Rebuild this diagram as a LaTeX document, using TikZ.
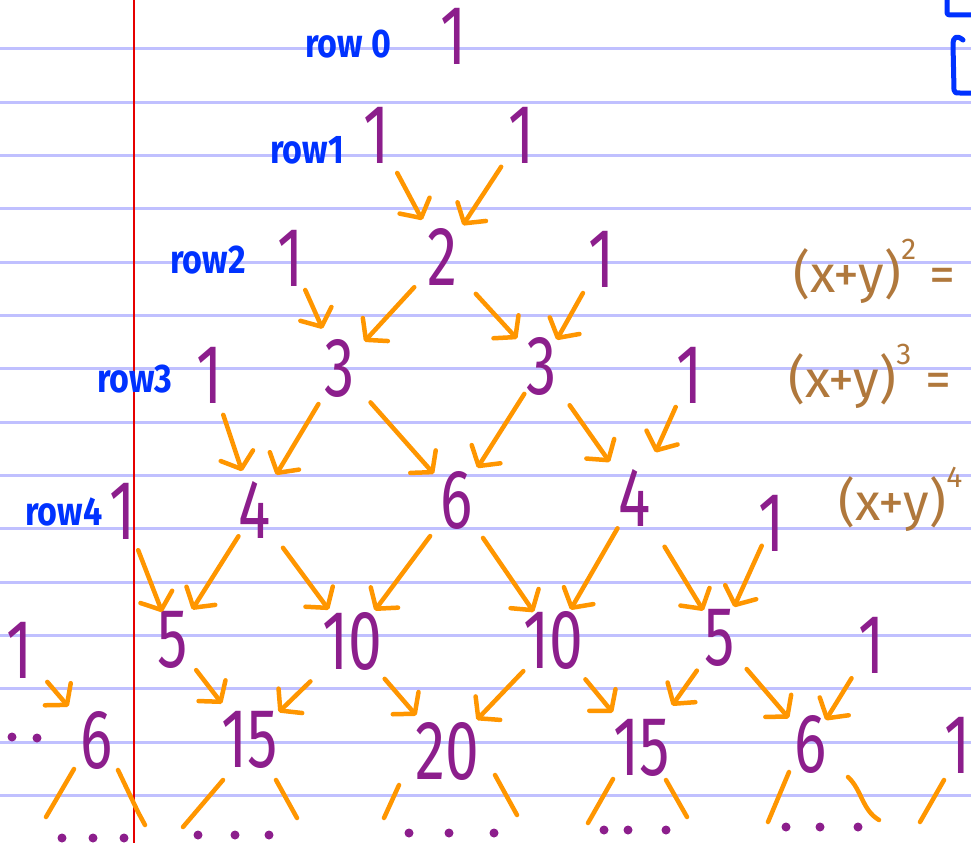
\documentclass[tikz,border=0pt]{standalone}
\usepackage{fontspec}
\usetikzlibrary{arrows.meta,calc}
\newfontfamily\handfont[FakeStretch=0.72]{Fira Sans}
\newfontfamily\labfont[FakeStretch=0.85]{Fira Sans}
\newfontfamily\eqfont{Fira Sans}
\definecolor{pur}{RGB}{140,30,140}
\definecolor{org}{RGB}{255,150,0}
\definecolor{blu}{RGB}{0,50,255}
\definecolor{brn}{RGB}{176,120,60}
\definecolor{rul}{RGB}{192,192,255}
\definecolor{mrg}{RGB}{230,0,0}
\newcommand\arw[4]{\draw[arr] ($(#1)!#3pt!(#2)$) -- ($(#2)!#4pt!(#1)$);}
\newcommand\sps[1]{\raisebox{0.62em}{\fontsize{30}{30}\selectfont #1}}
\begin{document}
\begin{tikzpicture}[x=1pt,y=-1pt,
  num/.style={text=pur, font=\handfont\fontsize{84}{84}\selectfont, inner sep=0pt, anchor=center},
  lab/.style={text=blu, font=\labfont\bfseries\fontsize{40}{40}\selectfont, inner sep=0pt, anchor=base west},
  eq/.style={text=brn, font=\eqfont\fontsize{52}{52}\selectfont, inner sep=0pt, anchor=base west},
  arr/.style={draw=org, line width=4.5pt, line cap=round, line join=round, -{Straight Barb[round,length=14pt,width=34pt]}},
  slash/.style={draw=org, line width=4.5pt, line cap=round},
  pen/.style={draw=blu, line width=5pt, line cap=round, line join=round},
  rule/.style={draw=rul, line width=3pt}]
\useasboundingbox (0,0) rectangle (971,843);
\fill[white] (0,0) rectangle (971,843);
% ruled paper
\foreach \k in {0,...,14} \draw[rule] (0,{49+53.33*\k}) -- (971,{49+53.33*\k});
\draw[draw=mrg, line width=2.5pt] (134,0) -- (134,843);
% numbers
\node[num] (n0) at (454,36) {1};
\node[num] (n1a) at (377,135) {1};
\node[num] (n1b) at (522,135) {1};
\node[num] (n2a) at (291,258) {1};
\node[num] (n2b) at (442,257) {2};
\node[num] (n2c) at (602,259) {1};
\node[num] (n3a) at (210,375) {1};
\node[num] (n3b) at (340,368) {3};
\node[num] (n3c) at (542,366) {3};
\node[num] (n3d) at (690,375) {1};
\node[num] (n4a) at (123,511) {1};
\node[num] (n4b) at (255,510) {4};
\node[num] (n4c) at (457,500) {6};
\node[num] (n4d) at (635,498) {4};
\node[num] (n4e) at (772,523) {1};
\node[num] (n5a) at (20,650) {1};
\node[num] (n5b) at (173,640) {5};
\node[num] (n5c) at (352,641) {10};
\node[num] (n5d) at (553,640) {10};
\node[num] (n5e) at (720,638) {5};
\node[num] (n5f) at (872,645) {1};
\node[num] (n6a) at (97,740) {6};
\node[num] (n6b) at (250,740) {15};
\node[num] (n6c) at (447,751) {20};
\node[num] (n6d) at (642,748) {15};
\node[num] (n6e) at (811,744) {6};
\node[num, anchor=east] (n6f) at (971,745) {1};
% row labels
\node[lab] (r0) at (305,58) {row 0};
\node[lab] (r1) at (270,163) {row1};
\node[lab] (r2) at (170,273) {row2};
\node[lab] (r3) at (97,392) {row3};
\node[lab] (r4) at (25,525) {row4};
% equations
\node[eq] (e2) at (793,292) {(x+y)\sps{2} =};
\node[eq] (e3) at (788,397) {(x+y)\sps{3} =};
\node[eq] (e4) at (838,520) {(x+y)\sps{4}};
% arrows
\arw{n1a}{n2b}{43}{42}
\arw{n1b}{n2b}{38}{38}
\arw{n2a}{n3b}{35}{43}
\arw{n2b}{n3b}{41}{36}
\arw{n2b}{n3c}{50}{37}
\arw{n2c}{n3c}{39}{30}
\arw{n3a}{n4b}{42}{41}
\arw{n3b}{n4b}{42}{41}
\arw{n3b}{n4c}{46}{35}
\arw{n3c}{n4c}{33}{38}
\arw{n3c}{n4d}{48}{44}
\arw{n3d}{n4d}{35}{50}
\arw{n4a}{n5b}{42}{30}
\arw{n4b}{n5b}{31}{36}
\arw{n4b}{n5c}{47}{39}
\arw{n4c}{n5c}{45}{38}
\arw{n4c}{n5d}{46}{34}
\arw{n4d}{n5d}{35}{35}
\arw{n4d}{n5e}{57}{32}
\arw{n4e}{n5e}{25}{34}
\arw{n5a}{n6a}{42}{44}
\arw{n5b}{n6b}{38}{46}
\arw{n5c}{n6b}{58}{40}
\arw{n5c}{n6c}{50}{47}
\arw{n5d}{n6c}{43}{43}
\arw{n5d}{n6d}{51}{46}
\arw{n5e}{n6d}{40}{52}
\arw{n5e}{n6e}{41}{34}
\arw{n5f}{n6e}{39}{28}
% strokes below the last row
\draw[slash] (74,769) -- (46,817);
\draw[slash] (118,770) -- (138,812) -- (145,825);
\draw[slash] (223,780) -- (183,827);
\draw[slash] (276,780) -- (297,818);
\draw[slash] (399,785) -- (384,818);
\draw[slash] (495,775) -- (517,815);
\draw[slash] (613,779) -- (588,823);
\draw[slash] (666,780) -- (687,817);
\draw[slash] (789,772) -- (768,822);
\draw[slash] (848,777) .. controls (862,790) and (862,810) .. (879,820);
\draw[slash] (944,780) -- (920,822);
% dots
\foreach \p in {(12,737),(37,738),
  (62,838),(93,838),(124,838),
  (198,835),(235,835),(269,835),
  (409,833),(449,833),(494,833),
  (604,830),(628,830),(666,830),
  (786,827),(820,827),(858,827)}
  \fill[pur] \p circle (4.5);
% blue marks at top right
\draw[pen] (947,0) -- (947,10) .. controls (947,15) .. (953,15) -- (971,15);
\draw[pen] (963,40) .. controls (957,35) and (953,36) .. (953,45) -- (954,90) .. controls (955,93) .. (960,93) -- (971,93);
\end{tikzpicture}
\end{document}
